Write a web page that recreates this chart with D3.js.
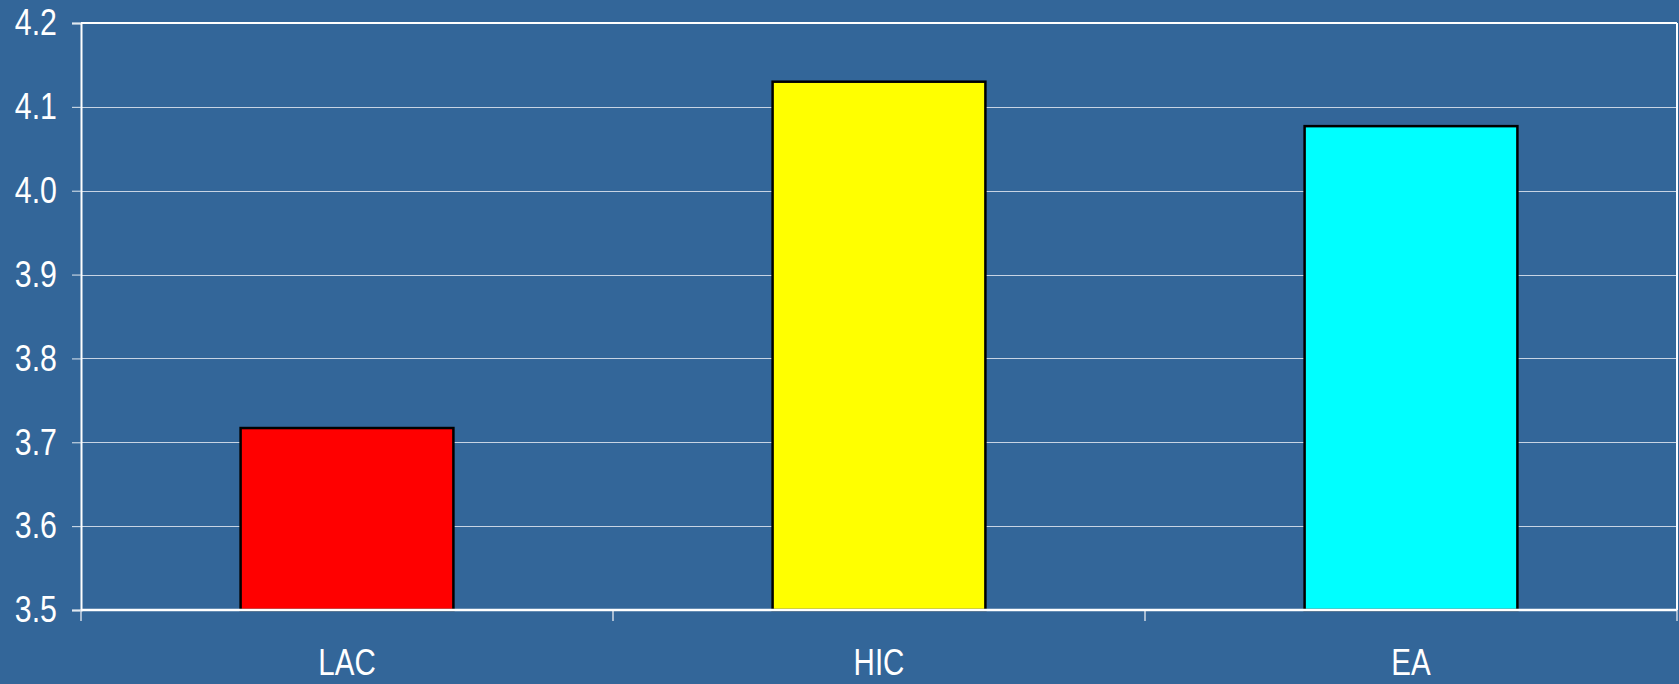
<!DOCTYPE html>
<html><head><meta charset="utf-8">
<script src="https://cdn.jsdelivr.net/npm/d3@7/dist/d3.min.js"></script>
<style>
html,body{margin:0;padding:0;background:#336699;overflow:hidden;}
svg{display:block;}
</style></head>
<body>
<svg id="chart" width="1679" height="684"></svg>
<script>
const categories = ["LAC", "HIC", "EA"];
const values = [3.717, 4.13, 4.077];
const barColors = ["#FF0000", "#FFFF00", "#00FFFF"];
const yTicks = [3.5, 3.6, 3.7, 3.8, 3.9, 4.0, 4.1, 4.2];

(function () {
const W = 1679, H = 684;
const pLeft = 81, pRight = 1677, pTop = 23, pBottom = 610;
const fontFam = "'Liberation Sans', Arial, sans-serif";
const svg = d3.select("#chart");
svg.append("rect").attr("width", W).attr("height", H).attr("fill", "#336699");

const x = d3.scaleBand().domain(categories).range([pLeft, pRight]).paddingInner(0.6).paddingOuter(0.3);
const y = d3.scaleLinear().domain([3.5, 4.2]).range([pBottom, pTop]);

// gridlines
svg.append("g").selectAll("line").data(yTicks.slice(1, -1)).join("line")
  .attr("x1", pLeft).attr("x2", pRight)
  .attr("y1", d => Math.round(y(d)) + 0.5).attr("y2", d => Math.round(y(d)) + 0.5)
  .attr("stroke", "#c8d4e4").attr("stroke-width", 1);

// frame top & right
svg.append("line").attr("x1", pLeft).attr("x2", pRight).attr("y1", pTop).attr("y2", pTop)
  .attr("stroke", "#ffffff").attr("stroke-width", 2);
svg.append("line").attr("x1", pRight).attr("x2", pRight).attr("y1", pTop).attr("y2", pBottom)
  .attr("stroke", "#ffffff").attr("stroke-width", 2);

// bars
svg.append("g").selectAll("rect").data(categories).join("rect")
  .attr("x", d => x(d)).attr("width", x.bandwidth())
  .attr("y", (d, i) => y(values[i])).attr("height", (d, i) => pBottom - y(values[i]))
  .attr("fill", (d, i) => barColors[i])
  .attr("stroke", "#000000").attr("stroke-width", 2.5);

// y axis
const yAxis = d3.axisLeft(y).tickValues(yTicks).tickFormat(d3.format(".1f")).tickSize(9).tickPadding(14);
const gy = svg.append("g").attr("transform", `translate(${pLeft},0)`).call(yAxis);
gy.select(".domain").attr("stroke", "#ffffff").attr("stroke-width", 2);
gy.selectAll(".tick line").attr("stroke", "#e0e8f0").attr("stroke-width", 1);
gy.selectAll(".tick text").attr("fill", "#ffffff")
  .attr("x", 0)
  .attr("transform", "translate(-24,0) scale(0.82,1)")
  .style("font-family", fontFam)
  .style("font-size", "37px");

// x axis
const xb = d3.scaleLinear().domain([0, categories.length]).range([pLeft, pRight]);
svg.append("g").selectAll("line").data(d3.range(categories.length + 1)).join("line")
  .attr("x1", d => xb(d)).attr("x2", d => xb(d))
  .attr("y1", pBottom).attr("y2", pBottom + 11)
  .attr("stroke", "#d0dae6").attr("stroke-width", 1.5);
svg.append("line").attr("x1", pLeft).attr("x2", pRight).attr("y1", pBottom).attr("y2", pBottom)
  .attr("stroke", "#ffffff").attr("stroke-width", 2.5);

svg.append("g").selectAll("text").data(categories).join("text")
  .attr("transform", d => `translate(${x(d) + x.bandwidth() / 2},675) scale(0.82,1.05)`)
  .attr("text-anchor", "middle")
  .attr("fill", "#ffffff")
  .style("font-family", fontFam)
  .style("font-size", "36px")
  .text(d => d);
})();
</script>
</body></html>
